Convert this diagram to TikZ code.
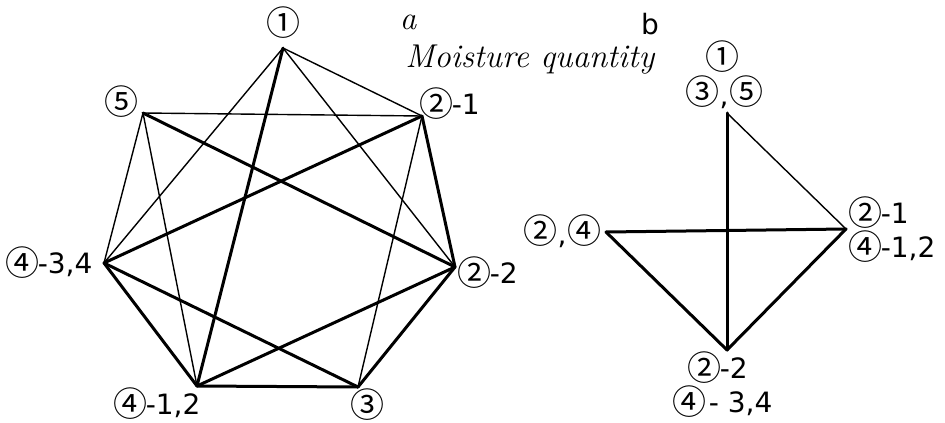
\documentclass[tikz,border=0pt]{standalone}
\usepackage{fontspec}
\newfontfamily\labelfont{DejaVu Sans}
\newfontfamily\circfont{Noto Sans CJK SC}
\usetikzlibrary{positioning}

\begin{document}
\begin{tikzpicture}[x=0.5pt, y=-0.5pt,
  thinedge/.style={line width=0.7pt, line cap=round, line join=round},
  thickedge/.style={line width=1.5pt, line cap=round, line join=round},
  cnum/.style={inner sep=0pt, font=\circfont\fontsize{17}{18}\selectfont},
  lbl/.style={font=\labelfont\fontsize{14}{16}\selectfont, inner sep=0pt, text depth=0pt},
  title/.style={font=\fontsize{16.5}{18}\selectfont\itshape, inner sep=0pt}
]
\useasboundingbox (0,0) rectangle (945,422);

% graph a
\coordinate (a1)   at (283,48);
\coordinate (a5)   at (143,113);
\coordinate (a21)  at (422,116);
\coordinate (a434) at (104,263);
\coordinate (a22)  at (455,267);
\coordinate (a412) at (197,386);
\coordinate (a3)   at (358,387);

\draw[thinedge]  (a1) -- (a21);
\draw[thinedge]  (a1) -- (a434);
\draw[thickedge] (a1) -- (a412);
\draw[thinedge]  (a1) -- (a22);
\draw[thinedge]  (a5) -- (a21);
\draw[thickedge] (a5) -- (a22);
\draw[thinedge]  (a5) -- (a434);
\draw[thinedge]  (a5) -- (a412);
\draw[thickedge] (a21) -- (a434);
\draw[thickedge] (a21) -- (a22);
\draw[thinedge]  (a21) -- (a3);
\draw[thickedge] (a434) -- (a412);
\draw[thickedge] (a434) -- (a3);
\draw[thickedge] (a22) -- (a412);
\draw[thickedge] (a22) -- (a3);
\draw[thickedge] (a412) -- (a3);

\node[cnum] (la1) at (283,23) {①};
\node[cnum] (la5) at (121,102) {⑤};
\node[cnum] (la21) at (436,104) {②};
\node[lbl, right=-1pt of la21] (la21t) {-1};
\node[cnum] (la434) at (22,263) {④};
\node[lbl, right=-1pt of la434] (la434t) {-3,4};
\node[cnum] (la22) at (474,273) {②};
\node[lbl, right=-1pt of la22] (la22t) {-2};
\node[cnum] (la412) at (130,404) {④};
\node[lbl, right=-1pt of la412] (la412t) {-1,2};
\node[cnum] (la3) at (367,405) {③};

\node[title] (capa) at (408,22) {a};
\node[title, anchor=west] (moist) at (405,60) {Moisture quantity};

% graph b
\coordinate (btop)   at (727,113);
\coordinate (bleft)  at (606,232);
\coordinate (bright) at (846,229);
\coordinate (bbot)   at (727,350);

\draw[thickedge] (btop) -- (bbot);
\draw[thickedge] (bleft) -- (bright);
\draw[thinedge]  (btop) -- (bright);
\draw[thickedge] (bright) -- (bbot);
\draw[thickedge] (bleft) -- (bbot);

\node[cnum] (lb1) at (722,57) {①};
\node[cnum] (lb3) at (702,92) {③};
\node[lbl] (lb35c) at (724,104) {,};
\node[cnum] (lb5) at (746,92) {⑤};
\node[cnum] (lb2) at (540,231) {②};
\node[lbl] (lb24c) at (562,243) {,};
\node[cnum] (lb4) at (584,231) {④};
\node[cnum] (lb21) at (865,213) {②};
\node[lbl, right=-1pt of lb21] (lb21t) {-1};
\node[cnum] (lb412) at (865,247) {④};
\node[lbl, right=-1pt of lb412] (lb412t) {-1,2};
\node[cnum] (lb22) at (704,368) {②};
\node[lbl, right=-1pt of lb22] (lb22t) {-2};
\node[cnum] (lb434) at (689,402) {④};
\node[lbl, right=1pt of lb434] (lb434t) {- 3,4};

\node[lbl] (capb) at (650,24) {b};
\end{tikzpicture}
\end{document}
